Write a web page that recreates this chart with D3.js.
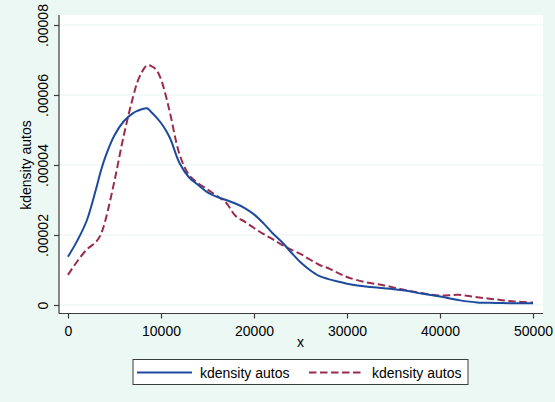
<!DOCTYPE html>
<html>
<head>
<meta charset="utf-8">
<script src="https://cdn.jsdelivr.net/npm/d3@7"></script>
<style>
  html, body { margin: 0; padding: 0; background: #ebf8f4; }
  svg { display: block; font-family: "Liberation Sans", Arial, sans-serif; }
</style>
</head>
<body>
<svg id="chart" width="555" height="402"></svg>
<script>
// Evaluation grid (price, x) shared by both density estimates
const gridX = [0, 1000, 2000, 3000, 3500, 4000, 5000, 6000, 7000, 7500, 8000, 8500, 9000, 9500,
  10000, 10500, 11000, 12000, 13000, 14000, 15000, 16000, 17000, 18000, 19000, 20000,
  21000, 22000, 23000, 24000, 25000, 26000, 27000, 28000, 29000, 30000, 32000, 34000,
  36000, 38000, 40000, 42000, 44000, 46000, 48000, 50000];

// First density (solid blue), units of 1e-5
const densityA = [1.38, 1.84, 2.40, 3.30, 3.80, 4.22, 4.85, 5.25, 5.48, 5.55, 5.60, 5.62, 5.50, 5.36,
  5.20, 5.00, 4.75, 4.05, 3.65, 3.43, 3.22, 3.09, 3.00, 2.90, 2.77, 2.59,
  2.34, 2.05, 1.80, 1.50, 1.22, 1.00, 0.83, 0.74, 0.67, 0.61, 0.53, 0.48,
  0.42, 0.33, 0.24, 0.14, 0.07, 0.06, 0.05, 0.05];

// Second density (dashed crimson), units of 1e-5
const densityB = [0.86, 1.25, 1.58, 1.80, 2.00, 2.40, 3.55, 4.85, 5.95, 6.40, 6.68, 6.85, 6.82, 6.72,
  6.45, 6.00, 5.45, 4.30, 3.72, 3.48, 3.30, 3.12, 2.92, 2.55, 2.38, 2.20,
  2.03, 1.88, 1.72, 1.58, 1.46, 1.30, 1.15, 1.05, 0.92, 0.80, 0.65, 0.56,
  0.44, 0.34, 0.27, 0.29, 0.22, 0.16, 0.10, 0.07];

const xTicks = [0, 10000, 20000, 30000, 40000, 50000];
const yTicks = [0, 0.00002, 0.00004, 0.00006, 0.00008];
const yTickLabels = ["0", ".00002", ".00004", ".00006", ".00008"];
const seriesNames = ["kdensity autos", "kdensity autos"];

const W = 555, H = 402;
const plot = { left: 59, right: 543, top: 15, bottom: 313.5 };
const blue = "#1d4a9c", crimson = "#9b2b4d", axisCol = "#3c3c3c";
const dash = "7.5,3.5";

const svg = d3.select("#chart");
svg.append("rect").attr("width", W).attr("height", H).attr("fill", "#ebf8f4");
svg.append("rect")
  .attr("x", plot.left).attr("y", plot.top)
  .attr("width", plot.right - plot.left).attr("height", plot.bottom - plot.top)
  .attr("fill", "#ffffff");

const x = d3.scaleLinear().domain([0, 50000]).range([68, 533]);
const y = d3.scaleLinear().domain([0, 0.00008]).range([305, 25]);

// horizontal grid
svg.append("g").selectAll("line").data(yTicks).join("line")
  .attr("x1", plot.left).attr("x2", plot.right)
  .attr("y1", d => y(d)).attr("y2", d => y(d))
  .attr("stroke", "#e6f4f1").attr("stroke-width", 1.2);

// curves
const toPts = arr => gridX.map((gx, i) => [gx, arr[i] * 1e-5]);
const line = d3.line().x(d => x(d[0])).y(d => y(d[1])).curve(d3.curveCatmullRom.alpha(0.5));

svg.append("path").datum(toPts(densityB))
  .attr("d", line).attr("fill", "none")
  .attr("stroke", crimson).attr("stroke-width", 2).attr("stroke-dasharray", dash);
svg.append("path").datum(toPts(densityA))
  .attr("d", line).attr("fill", "none")
  .attr("stroke", blue).attr("stroke-width", 2);

// axes
const xAxis = svg.append("g").attr("transform", `translate(0,${plot.bottom})`)
  .call(d3.axisBottom(x).tickValues(xTicks).tickSize(5).tickPadding(8).tickFormat(d3.format("d")));
xAxis.select(".domain").remove();
xAxis.selectAll("line").attr("stroke", axisCol).attr("stroke-width", 1.2);
xAxis.selectAll("text").attr("font-size", 14).attr("fill", "#000")
  .attr("font-family", "Liberation Sans, Arial, sans-serif");

const yAxis = svg.append("g").attr("transform", `translate(${plot.left},0)`)
  .call(d3.axisLeft(y).tickValues(yTicks).tickSize(5).tickFormat((d, i) => yTickLabels[i]));
yAxis.select(".domain").remove();
yAxis.selectAll("line").attr("stroke", axisCol).attr("stroke-width", 1.2);
yAxis.selectAll("text")
  .attr("transform", "rotate(-90)")
  .attr("x", 0).attr("y", -11).attr("dy", null)
  .attr("text-anchor", "middle")
  .attr("font-size", 14).attr("fill", "#000")
  .attr("font-family", "Liberation Sans, Arial, sans-serif");

svg.append("line").attr("x1", plot.left).attr("x2", plot.left)
  .attr("y1", plot.top).attr("y2", plot.bottom)
  .attr("stroke", axisCol).attr("stroke-width", 1.2);
svg.append("line").attr("x1", plot.left).attr("x2", plot.right)
  .attr("y1", plot.bottom).attr("y2", plot.bottom)
  .attr("stroke", axisCol).attr("stroke-width", 1.2);

// axis titles
svg.append("text").attr("x", (x(0) + x(50000)) / 2).attr("y", 347)
  .attr("text-anchor", "middle").attr("font-size", 14).text("x");
svg.append("text")
  .attr("transform", `translate(30.5,${(y(0) + y(0.00008)) / 2}) rotate(-90)`)
  .attr("text-anchor", "middle").attr("font-size", 14).text("kdensity autos");

// legend
const lg = svg.append("g");
lg.append("rect").attr("x", 133).attr("y", 359.5).attr("width", 335).attr("height", 25)
  .attr("fill", "#ffffff").attr("stroke", axisCol).attr("stroke-width", 1);
const items = [
  { color: blue, dash: null, x0: 137, tx: 200 },
  { color: crimson, dash: dash, x0: 309, tx: 372 }
];
items.forEach((it, i) => {
  lg.append("line").attr("x1", it.x0).attr("x2", it.x0 + 55)
    .attr("y1", 372.5).attr("y2", 372.5)
    .attr("stroke", it.color).attr("stroke-width", 2)
    .attr("stroke-dasharray", it.dash);
  lg.append("text").attr("x", it.tx).attr("y", 377.5)
    .attr("font-size", 14).text(seriesNames[i]);
});
</script>
</body>
</html>
